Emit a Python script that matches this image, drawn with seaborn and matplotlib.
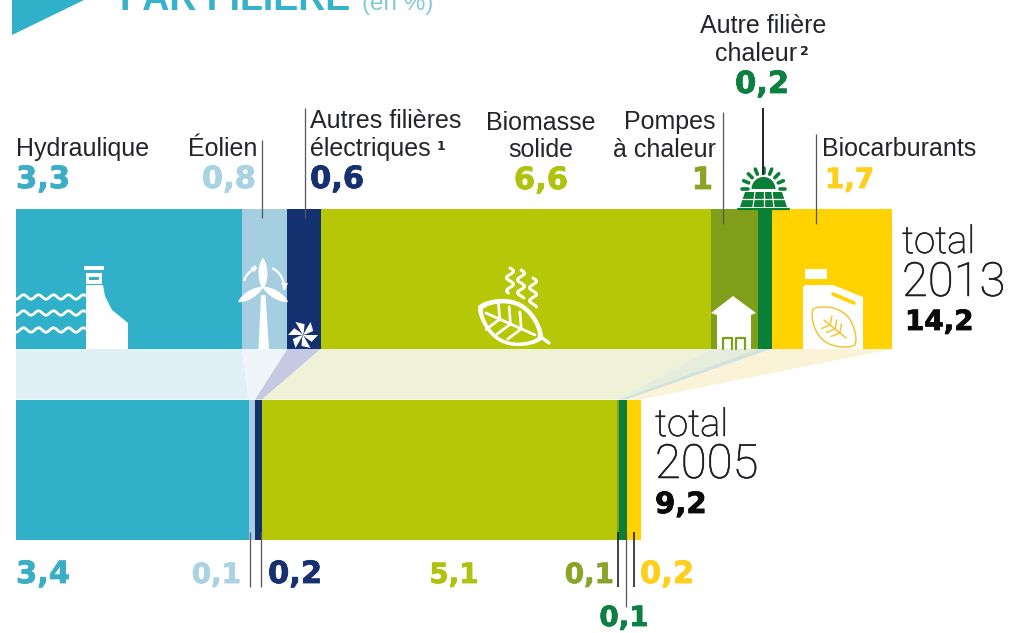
import numpy as np
import pandas as pd
import matplotlib
matplotlib.use("Agg")
import matplotlib.pyplot as plt
import matplotlib.patheffects as pe
from matplotlib.patches import Polygon, Wedge
from matplotlib.transforms import Affine2D
import seaborn as sns

W, H = 1020, 633

SEGMENTS = ["Hydraulique", "Éolien", "Autres électriques", "Biomasse solide",
            "Pompes à chaleur", "Autre chaleur", "Biocarburants"]
YEARS = ["2013", "2005"]

# printed values
LABELS_2013 = ["3,3", "0,8", "0,6", "6,6", "1", "0,2", "1,7"]
LABELS_2005 = ["3,4", "0,1", "0,2", "5,1", "0,1", "0,1", "0,2"]

# lengths as drawn in the picture (the bars are not quite to scale with the labels)
DRAWN_2013 = [3.66, 0.74, 0.54, 6.33, 0.75, 0.23, 1.95]
DRAWN_2005 = [3.77, 0.105, 0.113, 5.75, 0.04, 0.125, 0.23]

BAR_COLORS = ["#30B1C9", "#A5CFE0", "#14316F", "#B5C706", "#7F9F1B", "#0A7F36", "#FFD200"]
TEXT_COLORS = ["#3BAEC6", "#A9D3E2", "#17306F", "#AFC30E", "#8AA428", "#0C8040", "#FFCF1D"]
BAND_COLORS = ["#E0F0F6", "#EEF6FA", "#C5C9E2", "#EFF2D6", "#E6EDDC", "#D3E3DA", "#FBF3D8"]

SANS = ["Liberation Sans"]
HEAVY = ["DejaVu Sans"]
LIGHT = ["Roboto", "Liberation Sans"]
INK = "#23242C"
GREY = "#55565A"

PX_PER_UNIT = 61.69
BAR_W = 140 / 190.5
LABEL_SIZE = 18

sns.set_theme(style="white")
fig = plt.figure(figsize=(W / 100, H / 100), dpi=100, facecolor="white")
ax = fig.add_axes([0, 0, 1, 1])

px = Affine2D().scale(1, -1).translate(0, H)

cum_2013 = np.cumsum(DRAWN_2013)
cum_2005 = np.cumsum(DRAWN_2005)
df = pd.DataFrame({
    "segment": SEGMENTS * 2,
    "year": ["2013"] * 7 + ["2005"] * 7,
    "cum": list(cum_2013) + list(cum_2005),
})

# stacked by painting the running totals from longest to shortest
for name, color in reversed(list(zip(SEGMENTS, BAR_COLORS))):
    sub = df[df["segment"] == name]
    sns.barplot(data=sub, x="cum", y="year", order=YEARS, color=color, saturation=1,
                width=BAR_W, linewidth=0, ax=ax)

ax.set_xlim(-16 / PX_PER_UNIT, (W - 16) / PX_PER_UNIT)
ax.set_ylim((H - 279) / 190.5, -279 / 190.5)
ax.axis("off")

# pale bands between the two bars
left_a = np.r_[0, cum_2013[:-1]]
left_b = np.r_[0, cum_2005[:-1]]
y_a, y_b = BAR_W / 2, 1 - BAR_W / 2
for i, color in enumerate(BAND_COLORS):
    ax.fill([left_a[i], cum_2013[i], cum_2005[i], left_b[i]], [y_a, y_a, y_b, y_b],
            color=color, lw=0, zorder=1)


def label(x, y, s, size=LABEL_SIZE, color=INK, family=SANS, ha="left", weight="normal"):
    return ax.text(x, y, s, transform=px, fontsize=size, color=color, family=family,
                   ha=ha, va="baseline", fontweight=weight, clip_on=False, zorder=6)


def num(x, y, s, color, ha="left", size=22):
    t = label(x, y, s, size, color, HEAVY, ha, "bold")
    t.set_path_effects([pe.withStroke(linewidth=0.6, foreground=color)])
    return t


def total(x, y, s, size):
    t = label(x, y, s, size, "#1E1F26", LIGHT, weight="light")
    t.set_path_effects([pe.withStroke(linewidth=0.4, foreground="#1E1F26")])
    return t


def leader(x, y0, y1, lw=0.9, color=GREY):
    ax.plot([x, x], [y0, y1], transform=px, color=color, lw=lw, zorder=7,
            solid_capstyle="butt", clip_on=False)


def shape(points, color="white", z=5):
    ax.add_patch(Polygon(points, closed=True, transform=px, facecolor=color,
                         edgecolor="none", zorder=z, clip_on=False))


def stroke(xs, ys, color="white", lw=2.0, z=5):
    ax.plot(xs, ys, transform=px, color=color, lw=lw, zorder=z, clip_on=False,
            solid_capstyle="round", solid_joinstyle="round")


def leaf_outline(a, b, fat):
    a, b = np.array(a, float), np.array(b, float)
    normal = np.array([-(b - a)[1], (b - a)[0]]) / np.hypot(*(b - a))
    t = np.linspace(0, 1, 30)
    mid = a + np.outer(t, b - a)
    bulge = fat * np.sin(np.pi * t) ** 0.7
    return np.vstack([mid + np.outer(bulge, normal), (mid - np.outer(bulge, normal))[::-1]])


def veins(a, b, color, lw, reach, z=6):
    # midrib with side ribs running back towards the base
    a, b = np.array(a, float), np.array(b, float)
    stroke([a[0], b[0]], [a[1], b[1]], color, lw, z)
    d = (b - a) / np.hypot(*(b - a))
    n = np.array([-d[1], d[0]])
    for t in (0.28, 0.5, 0.72):
        base = a + (b - a) * t
        for side in (1, -1):
            tip = base - d * reach * 0.55 + side * n * reach
            stroke([base[0], tip[0]], [base[1], tip[1]], color, lw, z)


# header, cropped by the top of the picture
shape([(12, 35), (12, 0), (84, 0)], "#30B1C9")
label(120, 10, "PAR FILIÈRE", 27, "#38B1CA", weight="bold")
label(362, 10, "(en %)", 17.5, "#86C9DA")

# top labels
label(16, 156, "Hydraulique")
num(16, 188, LABELS_2013[0], TEXT_COLORS[0])
label(257, 156, "Éolien", ha="right")
num(256, 188, LABELS_2013[1], TEXT_COLORS[1], ha="right")
label(310, 128, "Autres filières")
label(310, 156, "électriques")
label(437, 150, "1", 9, family=HEAVY, weight="bold")
num(310, 188, LABELS_2013[2], TEXT_COLORS[2])
label(541, 130, "Biomasse", ha="center")
label(541, 157, "solide", ha="center")
num(541, 189, LABELS_2013[3], TEXT_COLORS[3], ha="center")
label(716, 129, "Pompes", ha="right")
label(716, 157, "à chaleur", ha="right")
num(713, 189, LABELS_2013[4], TEXT_COLORS[4], ha="right")
label(763, 33, "Autre filière", ha="center")
label(756, 61, "chaleur", ha="center")
label(800, 55, "2", 9, family=HEAVY, weight="bold")
num(762, 93, LABELS_2013[5], TEXT_COLORS[5], ha="center")
label(822, 156, "Biocarburants")
num(825, 188, LABELS_2013[6], TEXT_COLORS[6], size=20)

# bottom labels
num(16, 583, LABELS_2005[0], TEXT_COLORS[0])
num(241, 583, LABELS_2005[1], TEXT_COLORS[1], ha="right", size=20)
num(268, 583, LABELS_2005[2], TEXT_COLORS[2])
num(454, 583, LABELS_2005[3], TEXT_COLORS[3], ha="center", size=20)
num(614, 583, LABELS_2005[4], TEXT_COLORS[4], ha="right", size=20)
num(624, 626, LABELS_2005[5], TEXT_COLORS[5], ha="center", size=20)
num(640, 583, LABELS_2005[6], TEXT_COLORS[6])

# totals
total(902, 253, "total", 27.5)
total(902, 296, "2013", 34)
num(905, 330, "14,2", "#0A0A0A", size=20)
total(655, 436, "total", 27.5)
total(655, 478, "2005", 34)
num(655, 513, "9,2", "#0A0A0A", size=21)

# leader lines
leader(261.5, 140, 218)
leader(304.5, 108, 218)
leader(723, 112, 224)
leader(763, 108, 175, lw=1.4, color="#222222")
leader(816, 134, 224)
leader(249.5, 532, 587)
leader(261, 532, 587)
leader(618, 532, 587, lw=1.2, color="#222222")
leader(626, 532, 607)
leader(634, 532, 587, lw=1.2, color="#222222")

# --- icons ---
# dam and waves
shape([(86, 285), (103, 285), (105, 296), (112, 310), (128, 323), (128, 349), (86, 349)])
shape([(84, 266), (104, 266), (104, 270), (84, 270)])
shape([(86, 273), (102, 273), (102, 284), (86, 284)])
shape([(89, 277), (99, 277), (99, 280), (89, 280)], BAR_COLORS[0])
wave_x = np.linspace(16, 86, 80)
for wy in (297, 313, 330):
    stroke(wave_x, wy + 2.2 * np.cos((wave_x - 16) * 2 * np.pi / 15), lw=2.0)

# wind turbine
shape([(261, 295), (265.5, 295), (269, 349), (258.5, 349)])
shape(leaf_outline((263, 258), (263, 289), 4.5))
shape(leaf_outline((238, 302), (263, 287), 4))
shape(leaf_outline((288, 302), (263, 287), 4))
arc = np.deg2rad(np.linspace(200, 250, 12))
stroke(263 + 20 * np.cos(arc), 287 + 20 * np.sin(arc), lw=1.6)
arc = np.deg2rad(np.linspace(-62, 5, 12))
stroke(263 + 21 * np.cos(arc), 287 + 21 * np.sin(arc), lw=1.6)
shape([(281, 283), (288, 283), (285, 290)])
shape([(250, 268), (256, 265), (255, 272)])

# small pinwheel
for ang in np.arange(0, 360, 60):
    a = np.deg2rad(ang)
    b = np.deg2rad(ang + 38)
    c = np.deg2rad(ang - 25)
    shape([(303, 335),
           (303 + 15 * np.cos(a), 335 + 15 * np.sin(a)),
           (303 + 11 * np.cos(b), 335 + 11 * np.sin(b)),
           (303 + 4 * np.cos(c + 1.2), 335 + 4 * np.sin(c + 1.2))])

# leaf and steam
shape(leaf_outline((478, 306), (543, 339), 22))
shape(leaf_outline((483, 309), (538, 337), 18), BAR_COLORS[3], z=5.5)
veins((486, 313), (535, 335), "white", 2.0, 15)
stroke([541, 549], [337, 343], lw=2.4)
for sx, y0, y1 in ((510, 268, 293), (521, 270, 298), (533, 278, 307)):
    sy = np.linspace(y0, y1, 30)
    stroke(sx + 3.5 * np.sin((sy - y0) * 2 * np.pi / 13), sy, lw=2.2)

# house
shape([(711, 313), (733, 296), (756, 313), (751, 315), (751, 349), (717, 349), (717, 315)])
for hx0, hx1 in ((723, 732), (736, 745)):
    stroke([hx0, hx0, hx1, hx1], [349, 338, 338, 349], BAR_COLORS[4], lw=1.6)

# solar panel
dk = BAR_COLORS[5]
ax.add_patch(Wedge((763.5, 189), 12, 180, 360, transform=px, facecolor=dk, edgecolor="none",
                   zorder=5, clip_on=False))
for ang in np.arange(180, 361, 22.5):
    a = np.deg2rad(ang)
    stroke([763.5 + 16 * np.cos(a), 763.5 + 21.5 * np.cos(a)],
           [189 + 16 * np.sin(a), 189 + 21.5 * np.sin(a)], dk, lw=2.6)
shape([(745, 192), (782, 192), (787, 207), (740, 207)], dk)
stroke([738, 789], [209, 209], dk, lw=1.6)
for hx0, hx1 in ((755, 753), (763.5, 763.5), (772, 774)):
    stroke([hx0, hx1], [192, 207], "white", lw=0.9)
stroke([742, 785], [199, 199], "white", lw=0.9)

# canister with leaf
shape([(805, 269), (827, 269), (827, 279), (805, 279)])
shape([(803, 287), (805, 285), (833, 285), (863, 297), (863, 349), (803, 349)])
stroke([833, 854], [294, 303], BAR_COLORS[6], lw=2.6)
gold = "#F2C53A"
ax.add_patch(Polygon(leaf_outline((813, 309), (855, 345), 17), closed=True, transform=px,
                     facecolor="none", edgecolor=gold, lw=1.1, zorder=6))
veins((824, 320), (846, 338), gold, 1.1, 8)

fig.savefig("out.png", dpi=100)
